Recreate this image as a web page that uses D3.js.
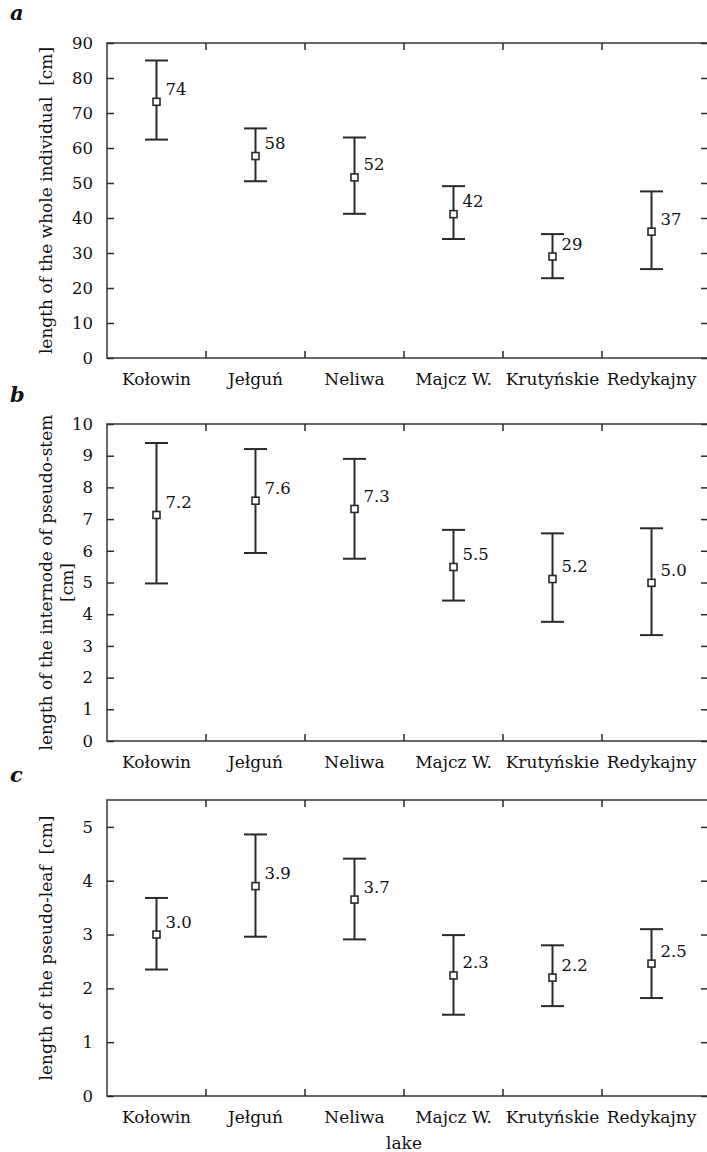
<!DOCTYPE html>
<html>
<head>
<meta charset="utf-8">
<script src="https://cdn.jsdelivr.net/npm/d3@7"></script>
<style>
  body { margin: 0; background: #fff; }
  text { font-family: "DejaVu Serif", serif; fill: #111; white-space: pre; }
</style>
</head>
<body>
<div id="container"></div>
<script>
/* DATA */
const lakes = ["Kołowin", "Jełguń", "Neliwa", "Majcz W.", "Krutyńskie", "Redykajny"];

// a: length of the whole individual
const wholeMean = [73.2, 57.7, 51.6, 41.1, 29.0, 36.1];
const wholeLow = [62.4, 50.5, 41.2, 34.0, 22.8, 25.4];
const wholeHigh = [85.0, 65.6, 63.0, 49.1, 35.4, 47.6];
const wholeLabels = ["74", "58", "52", "42", "29", "37"];
const wholeTicks = [0, 10, 20, 30, 40, 50, 60, 70, 80, 90];

// b: internode of pseudo-stem
const stemMean = [7.13, 7.58, 7.32, 5.49, 5.11, 4.99];
const stemLow = [4.97, 5.93, 5.75, 4.43, 3.76, 3.34];
const stemHigh = [9.40, 9.21, 8.90, 6.66, 6.55, 6.71];
const stemLabels = ["7.2", "7.6", "7.3", "5.5", "5.2", "5.0"];
const stemTicks = [0, 1, 2, 3, 4, 5, 6, 7, 8, 9, 10];

// c: pseudo-leaf
const leafMean = [3.00, 3.90, 3.65, 2.24, 2.20, 2.46];
const leafLow = [2.35, 2.96, 2.91, 1.51, 1.67, 1.82];
const leafHigh = [3.68, 4.86, 4.41, 2.99, 2.80, 3.10];
const leafLabels = ["3.0", "3.9", "3.7", "2.3", "2.2", "2.5"];
const leafTicks = [0, 1, 2, 3, 4, 5];

/* LAYOUT */
const width = 707, height = 1152;
const left = 107, right = 701, frameRight = 708;
const ink = "#2a2a2a";

const svg = d3.select("#container")
  .append("svg")
  .attr("width", width)
  .attr("height", height);

const x = d3.scaleBand().domain(lakes).range([left, right]);

const panels = [
  { letter: "a", letterY: 20, top: 43, bottom: 358, max: 90, ticks: wholeTicks,
    mean: wholeMean, low: wholeLow, high: wholeHigh, labels: wholeLabels,
    title: ["length of the whole individual  [cm]"] },
  { letter: "b", letterY: 402, top: 424, bottom: 741, max: 10, ticks: stemTicks,
    mean: stemMean, low: stemLow, high: stemHigh, labels: stemLabels,
    title: ["length of the internode of pseudo-stem", "[cm]"] },
  { letter: "c", letterY: 782, top: 800, bottom: 1096, max: 5.5, ticks: leafTicks,
    mean: leafMean, low: leafLow, high: leafHigh, labels: leafLabels,
    title: ["length of the pseudo-leaf  [cm]"] }
];

panels.forEach(p => {
  const y = d3.scaleLinear().domain([0, p.max]).range([p.bottom, p.top]);
  const g = svg.append("g");

  // panel letter
  g.append("text")
    .attr("x", 10).attr("y", p.letterY)
    .style("font-size", "21px")
    .style("font-weight", "bold")
    .style("font-style", "italic")
    .text(p.letter);

  // frame
  g.append("rect")
    .attr("x", left).attr("y", p.top)
    .attr("width", frameRight - left).attr("height", p.bottom - p.top)
    .attr("fill", "none").attr("stroke", "#444").attr("stroke-width", 1.6);

  // left axis (ticks inward)
  const yAxis = g.append("g")
    .attr("transform", `translate(${left},0)`)
    .call(d3.axisLeft(y).tickValues(p.ticks).tickSize(-7).tickPadding(14).tickFormat(d3.format("d")));
  yAxis.select(".domain").remove();
  yAxis.selectAll("line").attr("stroke", ink).attr("stroke-width", 1.5);
  yAxis.selectAll("text").style("font-size", "16.5px").style("font-family", "DejaVu Serif").attr("fill", "#111");

  // right axis ticks
  const yRight = g.append("g")
    .attr("transform", `translate(${frameRight},0)`)
    .call(d3.axisRight(y).tickValues(p.ticks).tickSize(-7).tickFormat(""));
  yRight.select(".domain").remove();
  yRight.selectAll("line").attr("stroke", ink).attr("stroke-width", 1.5);

  // top / bottom ticks at category boundaries
  const bounds = lakes.slice(1).map(d => x(d));
  g.selectAll("line.btick").data(bounds).join("line")
    .attr("x1", d => d).attr("x2", d => d)
    .attr("y1", p.bottom).attr("y2", p.bottom - 7)
    .attr("stroke", ink).attr("stroke-width", 1.5);
  g.selectAll("line.ttick").data(bounds).join("line")
    .attr("x1", d => d).attr("x2", d => d)
    .attr("y1", p.top).attr("y2", p.top + 7)
    .attr("stroke", ink).attr("stroke-width", 1.5);

  // category labels
  g.selectAll("text.cat").data(lakes).join("text")
    .attr("class", "cat")
    .attr("x", d => x(d) + x.bandwidth() / 2)
    .attr("y", p.bottom + 21)
    .attr("dy", "0.35em")
    .attr("text-anchor", "middle")
    .style("font-size", "17px")
    .text(d => d);

  // y title
  p.title.forEach((t, i) => {
    g.append("text")
      .attr("transform", `translate(${46 + i * 21},${(p.top + p.bottom) / 2}) rotate(-90)`)
      .attr("text-anchor", "middle")
      .attr("dy", "0.35em")
      .style("font-size", "17px")
      .text(t);
  });

  // error bars
  const rows = lakes.map((d, i) => ({ lake: d, mean: p.mean[i], low: p.low[i], high: p.high[i], label: p.labels[i] }));
  const cx = d => x(d.lake) + x.bandwidth() / 2;
  const bars = g.selectAll("g.bar").data(rows).join("g").attr("class", "bar");
  bars.append("line")
    .attr("x1", cx).attr("x2", cx)
    .attr("y1", d => y(d.low)).attr("y2", d => y(d.high))
    .attr("stroke", ink).attr("stroke-width", 2);
  ["low", "high"].forEach(k => {
    bars.append("line")
      .attr("x1", d => cx(d) - 11.5).attr("x2", d => cx(d) + 11.5)
      .attr("y1", d => y(d[k])).attr("y2", d => y(d[k]))
      .attr("stroke", ink).attr("stroke-width", 2);
  });
  bars.append("rect")
    .attr("x", d => cx(d) - 3.5).attr("y", d => y(d.mean) - 3.5)
    .attr("width", 7).attr("height", 7)
    .attr("fill", "#fff").attr("stroke", ink).attr("stroke-width", 1.6);
  bars.append("text")
    .attr("x", d => cx(d) + 9)
    .attr("y", d => y(d.mean) - 7)
    .style("font-size", "16.5px")
    .text(d => d.label);
});

// x title
svg.append("text")
  .attr("x", (left + right) / 2)
  .attr("y", 1143)
  .attr("dy", "0.35em")
  .attr("text-anchor", "middle")
  .style("font-size", "17px")
  .text("lake");
</script>
</body>
</html>
